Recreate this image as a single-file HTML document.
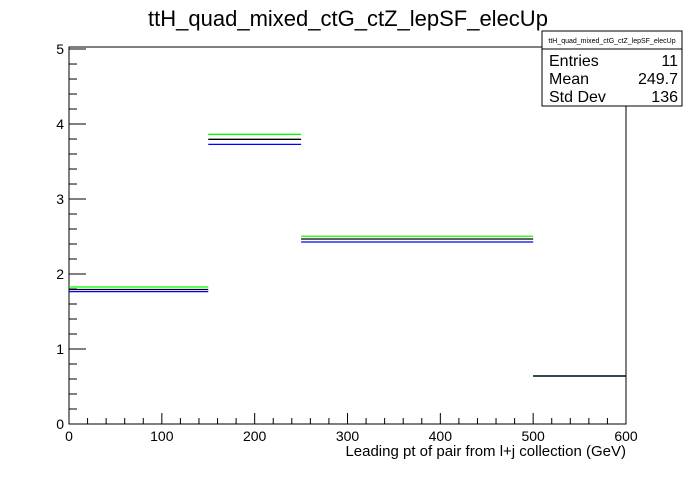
<!DOCTYPE html>
<html><head><meta charset="utf-8"><style>
body{margin:0;background:#fff;}
svg{font-family:"Liberation Sans",Arial,sans-serif;}
</style></head><body>
<svg width="696" height="472" viewBox="0 0 696 472">
<rect width="696" height="472" fill="#fff"/>
<text x="348" y="26" font-size="22" text-anchor="middle" fill="#000">ttH_quad_mixed_ctG_ctZ_lepSF_elecUp</text>
<g id="frame"></g>
<g id="marks"></g>
<g id="axes"></g>
<text x="626" y="456" font-size="15" text-anchor="end">Leading pt of pair from l+j collection (GeV)</text>
<g>
<rect x="542" y="31" width="140" height="75" fill="#fff" stroke="#000" stroke-width="1"/>
<line x1="542" y1="49" x2="682" y2="49" stroke="#000"/>
<text x="612" y="43" font-size="7" text-anchor="middle">ttH_quad_mixed_ctG_ctZ_lepSF_elecUp</text>
<text x="549" y="66" font-size="16">Entries</text><text x="678" y="66" font-size="16" text-anchor="end">11</text>
<text x="549" y="84" font-size="16">Mean</text><text x="678" y="84" font-size="16" text-anchor="end">249.7</text>
<text x="549" y="102" font-size="16">Std Dev</text><text x="678" y="102" font-size="16" text-anchor="end">136</text>
</g>
</svg>
<script>
const binEdges=[0,150,250,500,600];
const seriesNominal=[1.793,3.796,2.467,0.64];
const seriesUp=[1.827,3.863,2.503,0.64];
const seriesDown=[1.765,3.729,2.427,0.64];
const xTicks=[0,100,200,300,400,500,600];
const yTicks=[0,1,2,3,4,5];
const X0=69,X1=626,Y0=424,Y1=47,XMAX=600,YMAX=5.027;
const sx=v=>X0+(X1-X0)*v/XMAX;
const sy=v=>Y0-(Y0-Y1)*v/YMAX;
const NS="http://www.w3.org/2000/svg";
function mk(parent,tag,attrs){const e=document.createElementNS(NS,tag);for(const k in attrs)e.setAttribute(k,attrs[k]);parent.appendChild(e);return e;}
const frame=document.getElementById('frame'),marks=document.getElementById('marks'),axes=document.getElementById('axes');
const fr=mk(frame,'rect',{x:X0,y:Y1,width:X1-X0,height:Y0-Y1,fill:'none',stroke:'#000','stroke-width':1});


const series=[[seriesUp,'#00ff00','series-up'],[seriesDown,'#0000ff','series-down'],[seriesNominal,'#000','series-nominal']];
series.forEach(([vals,col,name])=>{
 vals.forEach((v,i)=>{
  const l=mk(marks,'line',{x1:sx(binEdges[i]),x2:sx(binEdges[i+1]),y1:sy(v),y2:sy(v),stroke:col,'stroke-width':1.3});
  
  
 });
});
for(let v=0;v<=XMAX;v+=20){const maj=v%100===0;mk(axes,'line',{x1:sx(v),x2:sx(v),y1:Y0,y2:Y0-(maj?11:6),stroke:'#000'});}
xTicks.forEach(v=>{const t=mk(axes,'text',{x:sx(v),y:Y0+17,'font-size':14,'text-anchor':'middle'});t.textContent=v;
 
 });
for(let v=0;v<=5.001;v+=0.2){const maj=Math.abs(v-Math.round(v))<1e-6;const y=sy(v);mk(axes,'line',{x1:X0,x2:X0+(maj?17:8),y1:y,y2:y,stroke:'#000'});}
yTicks.forEach(v=>{const t=mk(axes,'text',{x:X0-5,y:sy(v)+5,'font-size':14,'text-anchor':'end'});t.textContent=v;
 
 });
</script>
</body></html>
